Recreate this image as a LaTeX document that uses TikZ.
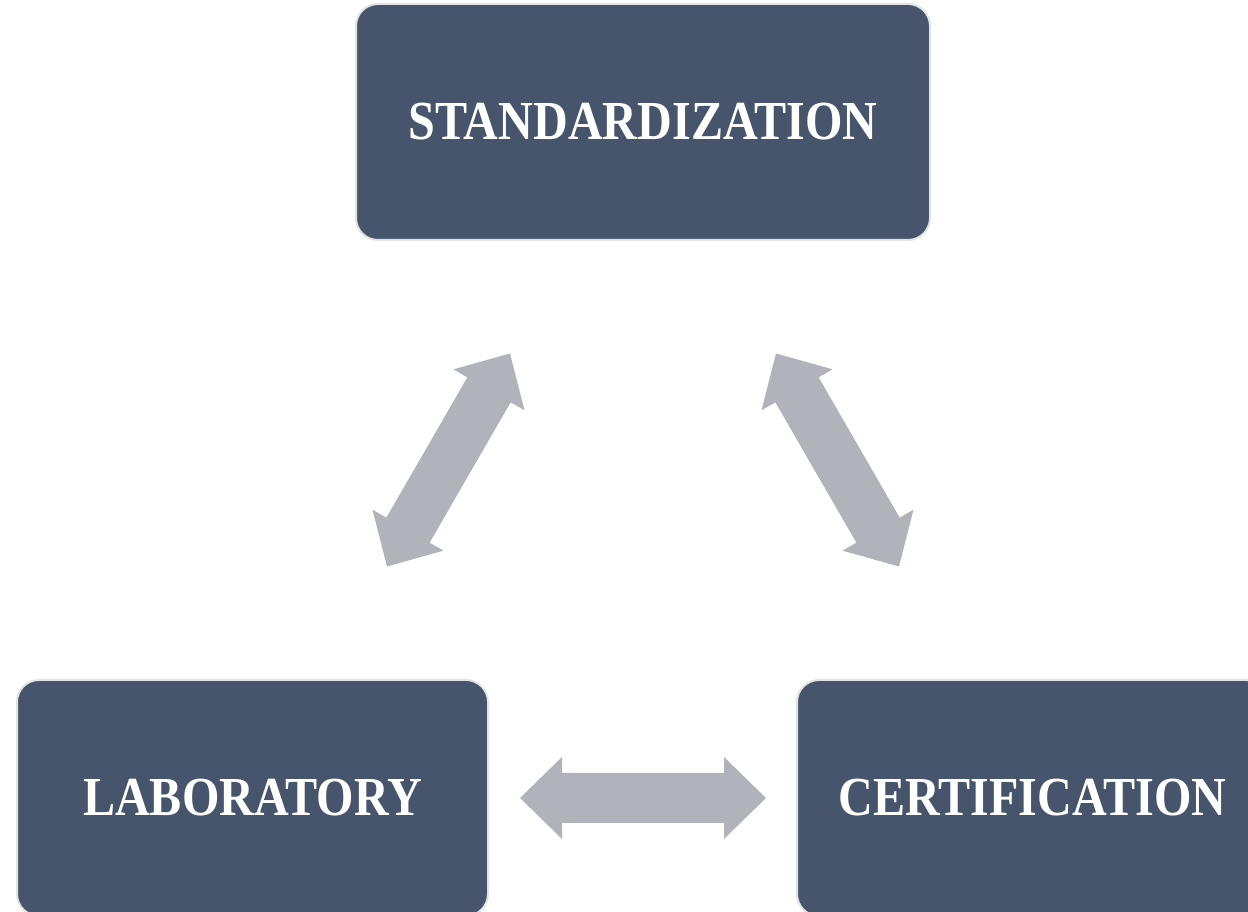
\documentclass[tikz,border=0pt]{standalone}
\usepackage{fontspec}
\newfontfamily\boxfont[FakeStretch=0.875]{Liberation Serif}
\definecolor{boxblue}{HTML}{46556C}
\definecolor{boxedge}{HTML}{E2E3E5}
\definecolor{arrowgray}{HTML}{B0B3BA}
\tikzset{
  box/.style={rectangle, rounded corners=22pt, fill=boxblue, draw=boxedge, line width=2pt,
    text=white, font=\boxfont\bfseries\fontsize{55}{60}\selectfont, inner sep=0pt},
  dblarrow/.pic={
    \fill[arrowgray] (-123,0) -- (-81,41) -- (-81,25) -- (81,25) -- (81,41) -- (123,0)
      -- (81,-41) -- (81,-25) -- (-81,-25) -- (-81,-41) -- cycle;
  }
}
\begin{document}
\begin{tikzpicture}[x=1pt,y=1pt]
\useasboundingbox (0,0) rectangle (1248,912);
\node[box, minimum width=574pt, minimum height=236pt] (std) at (643,790) {STANDARDIZATION};
\node[box, minimum width=471pt, minimum height=236pt] (lab) at (252.5,114) {LABORATORY};
\node[box, minimum width=471pt, minimum height=236pt] (cert) at (1032.5,114) {CERTIFICATION};
\coordinate (a1) at (643,114);
\coordinate (a2) at (448.5,452);
\coordinate (a3) at (837.5,452);
\pic[rotate=0] at (a1) {dblarrow};
\pic[rotate=60] at (a2) {dblarrow};
\pic[rotate=-60] at (a3) {dblarrow};
\end{tikzpicture}
\end{document}
